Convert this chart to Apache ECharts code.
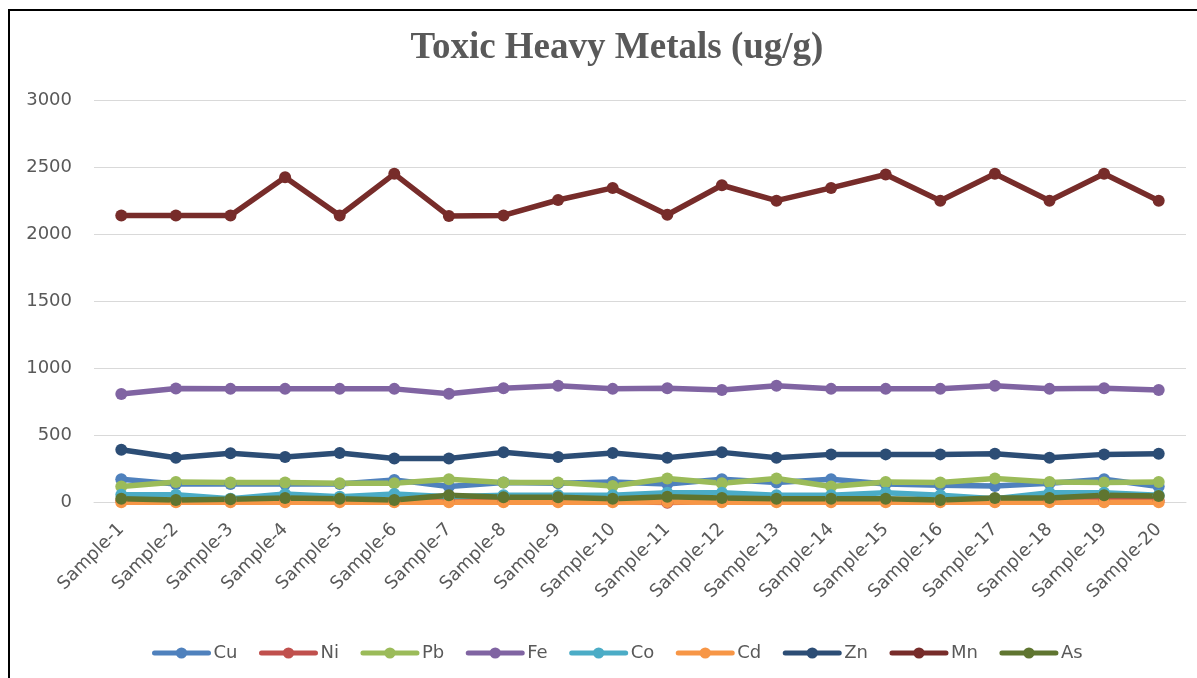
<!DOCTYPE html>
<html>
<head>
<meta charset="utf-8">
<title>Toxic Heavy Metals (ug/g)</title>
<script src="https://cdn.jsdelivr.net/npm/echarts@6/dist/echarts.min.js"></script>
<style>
  html, body { margin: 0; padding: 0; background: #ffffff; }
  #chart { width: 1197px; height: 678px; }
</style>
</head>
<body>
<div id="chart"></div>
<script>
// Sample labels along the x axis
const samples = ['Sample-1', 'Sample-2', 'Sample-3', 'Sample-4', 'Sample-5', 'Sample-6', 'Sample-7',
  'Sample-8', 'Sample-9', 'Sample-10', 'Sample-11', 'Sample-12', 'Sample-13', 'Sample-14',
  'Sample-15', 'Sample-16', 'Sample-17', 'Sample-18', 'Sample-19', 'Sample-20'];

// Concentrations per metal (ug/g)
const cu = [175, 140, 140, 140, 140, 170, 120, 150, 145, 155, 140, 175, 150, 175, 140, 130, 125, 145, 175, 120];
const ni = [15, 15, 15, 15, 15, 15, 15, 15, 15, 15, 0, 15, 15, 15, 15, 15, 15, 15, 15, 15];
const pb = [120, 155, 150, 150, 145, 145, 175, 150, 150, 125, 180, 145, 180, 120, 155, 150, 180, 155, 150, 155];
const fe = [810, 850, 848, 848, 848, 848, 812, 852, 872, 848, 852, 840, 872, 848, 848, 848, 872, 848, 852, 840];
const co = [60, 60, 30, 65, 45, 65, 45, 55, 55, 55, 75, 75, 55, 55, 75, 55, 30, 75, 75, 55];
const cd = [3, 3, 3, 3, 3, 3, 3, 3, 3, 3, 5, 3, 3, 3, 3, 3, 3, 3, 3, 3];
const zn = [395, 335, 368, 340, 370, 330, 330, 375, 340, 370, 335, 375, 335, 360, 360, 360, 365, 335, 360, 365];
const mn = [2140, 2140, 2140, 2425, 2140, 2450, 2135, 2140, 2255, 2345, 2145, 2365, 2250, 2345, 2445, 2250, 2450, 2250, 2450, 2250];
const as = [30, 20, 25, 35, 30, 20, 55, 40, 40, 30, 45, 35, 30, 30, 30, 20, 35, 35, 55, 50];

// Y axis ticks
const yTicks = [0, 500, 1000, 1500, 2000, 2500, 3000];

const metals = [
  { name: 'Cu', data: cu, color: '#4F81BD' },
  { name: 'Ni', data: ni, color: '#C0504D' },
  { name: 'Pb', data: pb, color: '#9BBB59' },
  { name: 'Fe', data: fe, color: '#8064A2' },
  { name: 'Co', data: co, color: '#4BACC6' },
  { name: 'Cd', data: cd, color: '#F79646' },
  { name: 'Zn', data: zn, color: '#2C4D75' },
  { name: 'Mn', data: mn, color: '#772C2A' },
  { name: 'As', data: as, color: '#5F7530' }
];

const textColor = '#595959';
const sans = 'DejaVu Sans';

const chart = echarts.init(document.getElementById('chart'), null, { renderer: 'canvas' });

chart.setOption({
  animation: false,
  backgroundColor: '#ffffff',
  color: metals.map(m => m.color),
  title: {
    text: 'Toxic Heavy Metals (ug/g)',
    left: 612,
    textAlign: 'center',
    top: 25,
    textStyle: {
      fontFamily: 'Liberation Serif',
      fontWeight: 'bold',
      fontSize: 37,
      color: textColor
    }
  },
  graphic: [{
    type: 'rect',
    silent: true,
    shape: { x: 9, y: 10, width: 1400, height: 1000 },
    style: { fill: 'none', stroke: '#000000', lineWidth: 2 }
  }],
  legend: {
    left: 152,
    top: 644,
    padding: 0,
    itemWidth: 54,
    itemHeight: 14,
    itemGap: 21.5,
    lineStyle: { width: 5 },
    textStyle: { fontFamily: sans, fontSize: 18, color: textColor },
    data: metals.map(m => m.name)
  },
  grid: {
    left: 94,
    right: 11,
    top: 100,
    bottom: 175.3
  },
  xAxis: {
    type: 'category',
    data: samples,
    boundaryGap: true,
    axisLine: { show: true, lineStyle: { color: '#D9D9D9', width: 1 } },
    axisTick: { show: false },
    axisLabel: {
      interval: 0,
      rotate: 45,
      margin: 24,
      fontFamily: sans,
      fontSize: 18,
      color: textColor
    }
  },
  yAxis: {
    type: 'value',
    min: yTicks[0],
    max: yTicks[yTicks.length - 1],
    interval: yTicks[1] - yTicks[0],
    axisLine: { show: false },
    axisTick: { show: false },
    splitLine: { lineStyle: { color: '#D9D9D9', width: 1 } },
    axisLabel: {
      margin: 22,
      fontFamily: sans,
      fontSize: 18,
      color: textColor,
      formatter: v => String(v)
    }
  },
  series: metals.map(m => ({
    name: m.name,
    type: 'line',
    data: m.data,
    symbol: 'circle',
    symbolSize: 12,
    showSymbol: true,
    lineStyle: { width: 5.5, color: m.color, cap: 'round', join: 'round' },
    itemStyle: { color: m.color }
  }))
});
</script>
</body>
</html>
